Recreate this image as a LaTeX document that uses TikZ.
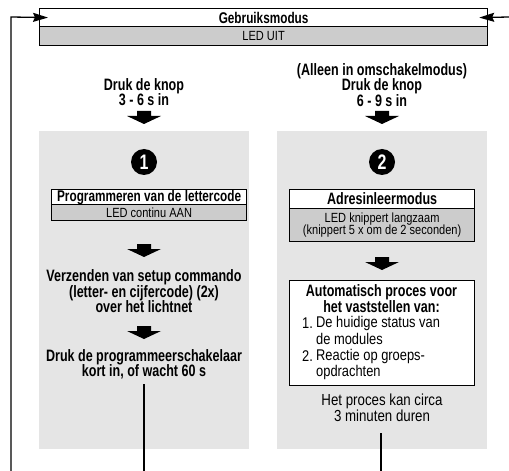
\documentclass[tikz,border=0pt]{standalone}
\usepackage{fontspec}
\setmainfont{Liberation Sans}[FakeStretch=0.83]
\newfontfamily\bcf{Liberation Sans}[FakeStretch=0.76]
\usetikzlibrary{arrows.meta}
\definecolor{panelgray}{gray}{0.9}
\definecolor{rowgray}{gray}{0.8}
\begin{document}
\begin{tikzpicture}[x=1bp,y=-1bp,
  bf/.style={font=\bcf\fontsize{16.5bp}{15.5bp}\selectfont\bfseries, align=center, inner sep=0pt},
  bfh/.style={font=\bcf\fontsize{15.5bp}{15.5bp}\selectfont\bfseries, align=center, inner sep=0pt},
  rf/.style={font=\fontsize{16bp}{15.5bp}\selectfont, align=center, inner sep=0pt},
  rfl/.style={font=\fontsize{15.5bp}{15.5bp}\selectfont, align=left, inner sep=0pt, anchor=west},
  rfs/.style={font=\fontsize{13.3bp}{12.5bp}\selectfont, align=center, inner sep=0pt},
  panel/.style={fill=panelgray, draw=none, inner sep=0pt, anchor=north west},
  frame/.style={draw=black, line width=1.2bp, inner sep=0pt, anchor=north west},
  num/.style={circle, fill=black, text=white, minimum size=26bp, inner sep=0pt,
    font=\bcf\fontsize{21bp}{21bp}\selectfont\bfseries},
  loopline/.style={line width=1.3bp},
  looparrow/.style={loopline, -{Stealth[length=15bp,width=9bp,inset=2bp]}},
  blockarr/.pic={\fill (-7,0) -- (7,0) -- (7,5) -- (17,5) -- (0,13) -- (-17,5) -- (-7,5) -- cycle;}
]
\useasboundingbox (0,0) rectangle (509,471);

% top box
\node[frame, fill=white, minimum width=448bp, minimum height=18bp, bfh] (gm) at (39,8) {Gebruiksmodus};
\node[frame, fill=rowgray, minimum width=448bp, minimum height=19bp, rfs] (led) at (39,26) {LED UIT};

% loop lines
\coordinate (lb) at (11,471);
\coordinate (lc) at (11,17);
\coordinate (rc) at (509,17);
\draw[looparrow] (lb) -- (lc) -- ([xshift=9bp]gm.west);
\draw[looparrow] (rc) -- ([xshift=-9bp]gm.east);

% panels
\node[panel, minimum width=210bp, minimum height=318bp] (p1) at (39,131) {};
\node[panel, minimum width=210bp, minimum height=318bp] (p2) at (277,131) {};

% column 1
\node[bf] (k1) at (144,92) {Druk de knop\\3 - 6 s in};
\pic at (144,111) {blockarr};
\node[num] (n1) at (144,162) {1};
\node[frame, fill=white, minimum width=195bp, minimum height=15bp, bfh] (b1) at (51,189) {Programmeren van de lettercode};
\node[frame, fill=rowgray, minimum width=195bp, minimum height=16bp, rfs] (b1s) at (51,204) {LED continu AAN};
\pic at (144,244) {blockarr};
\node[bf] (t1) at (144,291.5) {Verzenden van setup commando\\(letter- en cijfercode) (2x)\\over het lichtnet};
\pic at (144,326) {blockarr};
\node[bf] (t2) at (144,364.5) {Druk de programmeerschakelaar\\kort in, of wacht 60 s};
\coordinate (e1) at (144,384);
\coordinate (e1b) at (144,471);
\draw[loopline] (e1) -- (e1b);

% column 2
\node[bf] (k2) at (382,85) {(Alleen in omschakelmodus)\\Druk de knop\\6 - 9 s in};
\pic at (382,111) {blockarr};
\node[num] (n2) at (382,162) {2};
\node[frame, fill=white, minimum width=185bp, minimum height=19bp, bf] (b2) at (289,189) {Adresinleermodus};
\node[frame, fill=rowgray, minimum width=185bp, minimum height=33bp, rfs] (b2s) at (289,208) {LED knippert langzaam\\(knippert 5 x om de 2 seconden)};
\pic at (382,257) {blockarr};
\node[frame, fill=white, minimum width=185bp, minimum height=105bp] (b3) at (289,280) {};
\node[bf] (b3h) at (381.5,298.5) {Automatisch proces voor\\het vaststellen van:};
\node[rfl] (l1n) at (302,323) {1.};
\node[rfl] (l1a) at (316,323) {De huidige status van};
\node[rfl] (l1b) at (316,339) {de modules};
\node[rfl] (l2n) at (302,356) {2.};
\node[rfl] (l2a) at (316,356) {Reactie op groeps-};
\node[rfl] (l2b) at (316,372.5) {opdrachten};
\node[rf] (t3) at (382,408) {Het proces kan circa\\3 minuten duren};
\coordinate (e2) at (381,433);
\coordinate (e2b) at (381,471);
\draw[loopline] (e2) -- (e2b);
\end{tikzpicture}
\end{document}
